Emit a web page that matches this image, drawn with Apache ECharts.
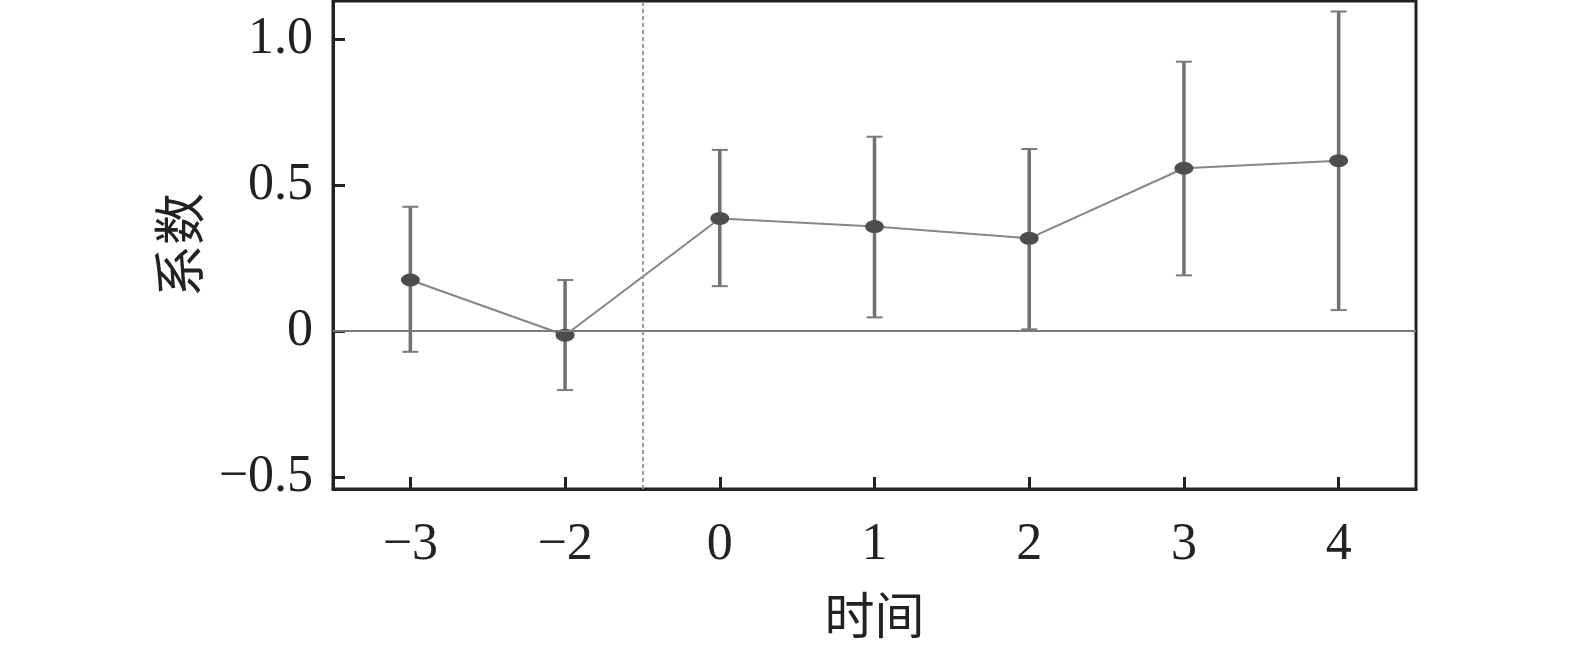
<!DOCTYPE html>
<html>
<head>
<meta charset="utf-8">
<script src="https://cdn.jsdelivr.net/npm/echarts@6/dist/echarts.min.js"></script>
<style>
html,body{margin:0;padding:0;background:#fff;}
#main{width:1575px;height:653px;}
</style>
</head>
<body>
<div id="main"></div>
<script>
// Data
var categories = ['\u22123', '\u22122', '0', '1', '2', '3', '4'];
var coef  = [0.175, -0.014, 0.386, 0.358, 0.318, 0.558, 0.584];
var lower = [-0.071, -0.202, 0.154, 0.047, 0.006, 0.191, 0.072];
var upper = [0.426, 0.175, 0.621, 0.666, 0.624, 0.923, 1.095];
var yTicks = [-0.5, 0, 0.5, 1.0];
var yTickLabels = ['\u22120.5', '0', '0.5', '1.0'];
var eventLine = 1.5; // between −2 and 0

var FONT = '"Liberation Serif", "Noto Sans CJK SC", serif';
var xIdx = categories.map(function (c, i) { return i; });

var linePts = coef.map(function (v, i) { return [i, v]; });
var errData = coef.map(function (v, i) { return [i, lower[i], upper[i]]; });

var chart = echarts.init(document.getElementById('main'));
chart.setOption({
  animation: false,
  backgroundColor: '#fff',
  grid: {
    left: 333, right: 159, top: 1, bottom: 164,
    show: true, borderColor: '#222', borderWidth: 3, backgroundColor: 'transparent'
  },
  xAxis: {
    type: 'value', min: -0.5, max: 6.5,
    name: '时间', nameLocation: 'middle', nameGap: 107,
    nameTextStyle: { fontFamily: FONT, fontSize: 50, color: '#222' },
    axisLine: { show: true, onZero: false, lineStyle: { color: '#222', width: 3 } },
    axisTick: { show: true, inside: true, length: 12, customValues: xIdx, lineStyle: { color: '#222', width: 3 } },
    axisLabel: {
      customValues: xIdx, margin: 30, fontFamily: FONT, fontSize: 52, color: '#222',
      formatter: function (v) { return categories[Math.round(v)]; }
    },
    splitLine: { show: false }
  },
  yAxis: {
    type: 'value', min: -0.541, max: 1.131,
    name: '系数', nameLocation: 'middle', nameGap: 122, nameRotate: 90, nameMoveOverlap: false,
    nameTextStyle: { fontFamily: FONT, fontSize: 52, color: '#222' },
    axisLine: { show: true, onZero: false, lineStyle: { color: '#222', width: 3 } },
    axisTick: { show: true, inside: true, length: 12, customValues: yTicks, lineStyle: { color: '#222', width: 3 } },
    axisLabel: {
      customValues: yTicks, margin: 20, fontFamily: FONT, fontSize: 52, color: '#222',
      formatter: function (v) {
        for (var k = 0; k < yTicks.length; k++) { if (Math.abs(v - yTicks[k]) < 1e-9) return yTickLabels[k]; }
        return '';
      }
    },
    splitLine: { show: false }
  },
  series: [
    {
      type: 'custom',
      z: 3,
      data: errData,
      renderItem: function (params, api) {
        var x = api.value(0);
        var lo = api.coord([x, api.value(1)]);
        var hi = api.coord([x, api.value(2)]);
        var cw = 8;
        return {
          type: 'group',
          children: [
            { type: 'line', shape: { x1: lo[0], y1: lo[1], x2: hi[0], y2: hi[1] }, style: { stroke: '#707070', lineWidth: 3.5 } },
            { type: 'line', shape: { x1: hi[0] - cw, y1: hi[1], x2: hi[0] + cw, y2: hi[1] }, style: { stroke: '#7a7a7a', lineWidth: 2 } },
            { type: 'line', shape: { x1: lo[0] - cw, y1: lo[1], x2: lo[0] + cw, y2: lo[1] }, style: { stroke: '#7a7a7a', lineWidth: 2 } }
          ]
        };
      }
    },
    {
      type: 'line',
      z: 4,
      data: linePts,
      symbol: 'circle',
      symbolSize: [19, 13],
      itemStyle: { color: '#4d4d4d' },
      lineStyle: { color: '#858585', width: 2 },
      markLine: {
        silent: true, symbol: 'none', label: { show: false },
        data: [
          { yAxis: 0, lineStyle: { color: '#7a7a7a', width: 2, type: 'solid' } },
          { xAxis: eventLine, lineStyle: { color: '#9a9a9a', width: 2, type: [4, 3] } }
        ]
      }
    }
  ]
});
</script>
</body>
</html>
